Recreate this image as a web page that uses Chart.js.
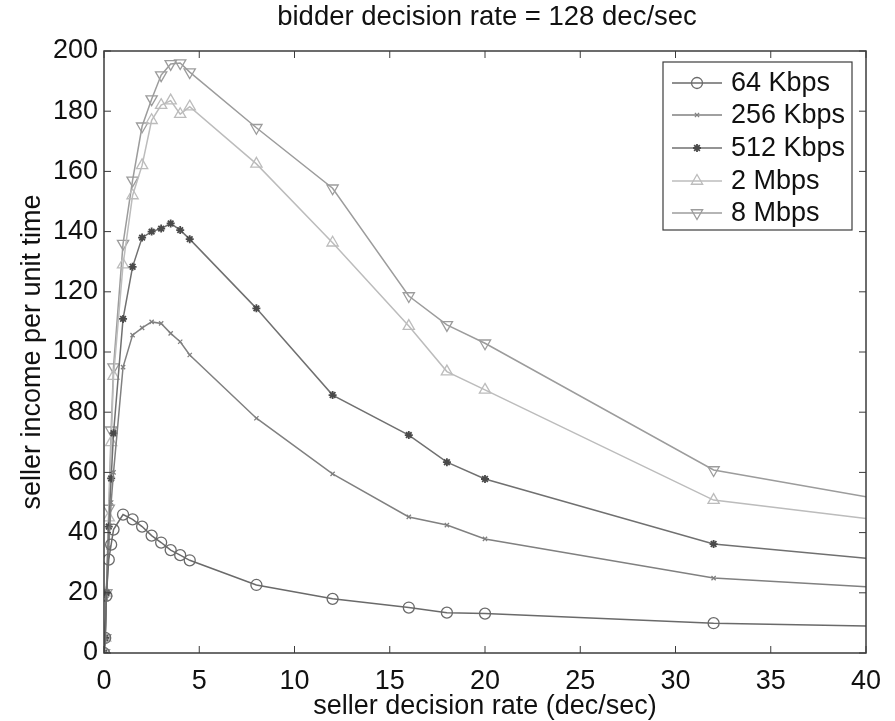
<!DOCTYPE html>
<html>
<head>
<meta charset="utf-8">
<script src="https://cdn.jsdelivr.net/npm/chart.js@4.4.0/dist/chart.umd.min.js"></script>
<style>
  html, body { margin: 0; padding: 0; background: #fff; }
  #wrap { width: 895px; height: 721px; }
</style>
</head>
<body>
<div id="wrap"><canvas id="chart" width="895" height="721"></canvas></div>
<script>
// seller decision rate (dec/sec) and seller income per unit time for each link speed
const rates      = [0, 0.0625, 0.125, 0.25, 0.375, 0.5, 1, 1.5, 2, 2.5, 3, 3.5, 4, 4.5, 8, 12, 16, 18, 20, 32, 40];
const income64k  = [0, 5, 19, 31, 36, 41, 46, 44.4, 42, 39, 36.7, 34.2, 32.5, 30.8, 22.6, 18, 15.1, 13.4, 13.1, 9.9, 9.0];
const income256k = [0, 5, 18, 35, 50, 60, 95, 105.6, 108, 110, 109.5, 106.2, 103.4, 99, 78, 59.5, 45.2, 42.5, 37.9, 24.9, 22];
const income512k = [0, 5, 20, 42, 58, 73, 111, 128.3, 138, 140, 141, 142.7, 140.5, 137.5, 114.5, 85.7, 72.4, 63.4, 57.8, 36.2, 31.5];
const income2m   = [0, 5, 20, 45, 70, 92, 129, 152, 162, 177, 182, 183.5, 179, 181.5, 162.5, 136.3, 108.6, 93.5, 87.4, 50.8, 44.7];
const income8m   = [0, 5, 20, 48, 74, 95, 136, 157, 175, 184, 192, 195.7, 196, 193, 174.5, 154.4, 118.6, 109, 102.9, 60.8, 51.9];

const seriesNames = ['64 Kbps', '256 Kbps', '512 Kbps', '2 Mbps', '8 Mbps'];
const xTicks = [0, 5, 10, 15, 20, 25, 30, 35, 40];
const yTicks = [0, 20, 40, 60, 80, 100, 120, 140, 160, 180, 200];

const FONT = '"Liberation Sans", Arial, Helvetica, sans-serif';

function pts(ys) {
  return rates.map((x, i) => ({ x, y: ys[i] }));
}

// no marker on the last sample, it sits on the right edge of the box
function radius(r) {
  return ctx => (ctx.raw && ctx.raw.x >= 40 ? 0 : r);
}

function series(label, ys, color, style, r, extra) {
  return Object.assign({
    label,
    data: pts(ys),
    borderColor: color,
    backgroundColor: 'rgba(0,0,0,0)',
    pointBorderColor: color,
    pointBackgroundColor: 'rgba(0,0,0,0)',
    borderWidth: 1.5,
    pointBorderWidth: 1.3,
    pointStyle: style,
    pointRadius: radius(r),
    pointRotation: 0,
    showLine: true,
    tension: 0
  }, extra || {});
}

const datasets = [
  series(seriesNames[0], income64k, '#6a6a6a', 'circle', 5.5),
  series(seriesNames[1], income256k, '#808080', 'crossRot', 3),
  series(seriesNames[2], income512k, '#707070', 'star', 4, { pointBorderColor: '#4a4a4a', pointBorderWidth: 1.8 }),
  series(seriesNames[3], income2m, '#bcbcbc', 'triangle', 6.5),
  series(seriesNames[4], income8m, '#9c9c9c', 'triangle', 6.5, { pointRotation: 180 })
];

// box, inward ticks on all four sides, titles and the legend
const frame = {
  id: 'frame',
  afterDraw(chart) {
    const { ctx, chartArea: a, scales } = chart;
    const xs = scales.x, ys = scales.y;
    ctx.save();
    ctx.strokeStyle = '#3c3c3c';
    ctx.lineWidth = 1.5;
    ctx.strokeRect(a.left, a.top, a.right - a.left, a.bottom - a.top);

    ctx.lineWidth = 1;
    const tl = 7;
    ctx.beginPath();
    xTicks.forEach(v => {
      const px = xs.getPixelForValue(v);
      ctx.moveTo(px, a.bottom); ctx.lineTo(px, a.bottom - tl);
      ctx.moveTo(px, a.top); ctx.lineTo(px, a.top + tl);
    });
    yTicks.forEach(v => {
      const py = ys.getPixelForValue(v);
      ctx.moveTo(a.left, py); ctx.lineTo(a.left + tl, py);
      ctx.moveTo(a.right, py); ctx.lineTo(a.right - tl, py);
    });
    ctx.stroke();

    ctx.fillStyle = '#111';
    ctx.textAlign = 'center';
    ctx.textBaseline = 'alphabetic';
    ctx.font = '27.5px ' + FONT;
    ctx.fillText('bidder decision rate = 128 dec/sec', 487, 25);
    ctx.font = '27px ' + FONT;
    ctx.fillText('seller decision rate (dec/sec)', (a.left + a.right) / 2, 714);
    ctx.save();
    ctx.translate(40, (a.top + a.bottom) / 2);
    ctx.rotate(-Math.PI / 2);
    ctx.fillText('seller income per unit time', 0, 0);
    ctx.restore();

    // legend
    const lx = 663, ly = 62, lw = 189, lh = 168;
    ctx.fillStyle = '#fff';
    ctx.fillRect(lx, ly, lw, lh);
    ctx.strokeStyle = '#3c3c3c';
    ctx.lineWidth = 1.2;
    ctx.strokeRect(lx, ly, lw, lh);
    const rows = [83, 115, 148, 181, 213];
    chart.data.datasets.forEach((ds, i) => {
      const y = rows[i];
      ctx.strokeStyle = ds.borderColor;
      ctx.lineWidth = ds.borderWidth;
      ctx.beginPath();
      ctx.moveTo(672, y); ctx.lineTo(722, y);
      ctx.stroke();
      ctx.strokeStyle = ds.pointBorderColor;
      ctx.fillStyle = 'rgba(0,0,0,0)';
      ctx.lineWidth = ds.pointBorderWidth;
      const r = typeof ds.pointRadius === 'function' ? ds.pointRadius({ raw: { x: 0 } }) : ds.pointRadius;
      Chart.helpers.drawPoint(ctx, {
        pointStyle: ds.pointStyle, radius: r, rotation: ds.pointRotation, borderWidth: ds.pointBorderWidth
      }, 697, y);
      ctx.fillStyle = '#111';
      ctx.font = '27px ' + FONT;
      ctx.textAlign = 'left';
      ctx.textBaseline = 'middle';
      ctx.fillText(ds.label, 731, y + 1);
    });
    ctx.restore();
  }
};

new Chart(document.getElementById('chart'), {
  type: 'scatter',
  data: { datasets },
  options: {
    responsive: false,
    animation: false,
    layout: { padding: { left: 0, right: 29, top: 51, bottom: 0 } },
    plugins: {
      legend: { display: false },
      title: { display: false },
      tooltip: { enabled: false }
    },
    scales: {
      x: {
        type: 'linear', min: 0, max: 40,
        grid: { display: false, drawTicks: false },
        border: { display: false },
        ticks: {
          stepSize: 5, padding: 12, color: '#111',
          font: { family: FONT, size: 27 }
        },
        afterFit(s) { s.height = 68; }
      },
      y: {
        type: 'linear', min: 0, max: 200,
        grid: { display: false, drawTicks: false },
        border: { display: false },
        ticks: {
          stepSize: 20, padding: 6, color: '#111',
          font: { family: FONT, size: 27 }
        },
        afterFit(s) { s.width = 104; }
      }
    }
  },
  plugins: [frame]
});
</script>
</body>
</html>
